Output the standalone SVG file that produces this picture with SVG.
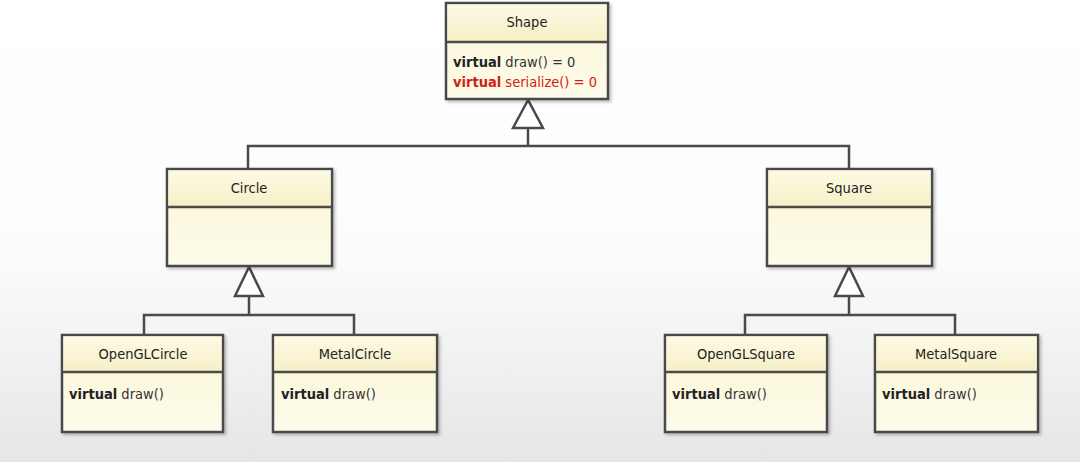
<svg xmlns="http://www.w3.org/2000/svg" width="1080" height="462" viewBox="0 0 1080 462">
<defs>
<linearGradient id="bg" x1="0" y1="0" x2="0" y2="1">
<stop offset="0" stop-color="#ffffff"/>
<stop offset="0.55" stop-color="#fcfcfc"/>
<stop offset="1" stop-color="#e6e6e6"/>
</linearGradient>
<linearGradient id="body" x1="0" y1="0" x2="0" y2="1">
<stop offset="0" stop-color="#fbf6d6"/>
<stop offset="1" stop-color="#fdfbea"/>
</linearGradient>
<linearGradient id="head" x1="0" y1="0" x2="0" y2="1">
<stop offset="0" stop-color="#fdfae4"/>
<stop offset="1" stop-color="#f6efc6"/>
</linearGradient>
<filter id="sh" x="-5%" y="-5%" width="115%" height="115%">
<feDropShadow dx="2" dy="2" stdDeviation="1.5" flood-color="#000" flood-opacity="0.25"/>
</filter>
</defs>
<style>
.box{fill:url(#body);stroke:#4a4a4a;stroke-width:2.5;filter:url(#sh)}
.hd{fill:url(#head);stroke:none}
.div{stroke:#4a4a4a;stroke-width:2.5}
.t{font-family:"DejaVu Sans Condensed","DejaVu Sans",sans-serif;font-size:14.5px;fill:#222;text-anchor:middle}
.m{font-family:"DejaVu Sans Condensed","DejaVu Sans",sans-serif;font-size:14.5px;fill:#333}
.k{font-weight:bold;fill:#222}
.r{fill:#d0230f}
.c{fill:none;stroke:#4a4a4a;stroke-width:2.5}
.tri{fill:#ffffff;stroke:#4a4a4a;stroke-width:2.5;stroke-linejoin:miter}
</style>
<rect x="0" y="0" width="1080" height="462" fill="url(#bg)"/>

<g id="connectors">
<polyline class="c" points="248,169 248,146 849,146 849,169"/>
<line class="c" x1="528" y1="128" x2="528" y2="146"/>
<polygon class="tri" points="528,100 513,128 543,128"/>
<polyline class="c" points="144,335 144,315 354,315 354,335"/>
<line class="c" x1="249" y1="296" x2="249" y2="315"/>
<polygon class="tri" points="249,267 235,296 263,296"/>
<polyline class="c" points="745,335 745,315 955,315 955,335"/>
<line class="c" x1="849" y1="296" x2="849" y2="315"/>
<polygon class="tri" points="849,267 835,296 863,296"/>
</g>

<g id="Shape">
<rect class="box" x="446" y="3" width="162" height="96"/>
<rect class="hd" x="447.5" y="4.5" width="159" height="37"/>
<line class="div" x1="446" y1="42" x2="608" y2="42"/>
<text class="t" x="527" y="27">Shape</text>
<text class="m" x="453" y="67"><tspan class="k">virtual</tspan> draw() = 0</text>
<text class="m r" x="453" y="87"><tspan class="k r">virtual</tspan> serialize() = 0</text>
</g>

<g id="Circle">
<rect class="box" x="167" y="169" width="165" height="97"/>
<rect class="hd" x="168.5" y="170.5" width="162" height="36"/>
<line class="div" x1="167" y1="207" x2="332" y2="207"/>
<text class="t" x="249" y="193">Circle</text>
</g>

<g id="Square">
<rect class="box" x="767" y="169" width="165" height="97"/>
<rect class="hd" x="768.5" y="170.5" width="162" height="36"/>
<line class="div" x1="767" y1="207" x2="932" y2="207"/>
<text class="t" x="849" y="193">Square</text>
</g>

<g id="OpenGLCircle">
<rect class="box" x="62" y="335" width="161" height="97"/>
<rect class="hd" x="63.5" y="336.5" width="158" height="35"/>
<line class="div" x1="62" y1="372" x2="223" y2="372"/>
<text class="t" x="143" y="359">OpenGLCircle</text>
<text class="m" x="69" y="399"><tspan class="k">virtual</tspan> draw()</text>
</g>

<g id="MetalCircle">
<rect class="box" x="273" y="335" width="164" height="97"/>
<rect class="hd" x="274.5" y="336.5" width="161" height="35"/>
<line class="div" x1="273" y1="372" x2="437" y2="372"/>
<text class="t" x="355" y="359">MetalCircle</text>
<text class="m" x="281" y="399"><tspan class="k">virtual</tspan> draw()</text>
</g>

<g id="OpenGLSquare">
<rect class="box" x="665" y="335" width="162" height="97"/>
<rect class="hd" x="666.5" y="336.5" width="159" height="35"/>
<line class="div" x1="665" y1="372" x2="827" y2="372"/>
<text class="t" x="746" y="359">OpenGLSquare</text>
<text class="m" x="672" y="399"><tspan class="k">virtual</tspan> draw()</text>
</g>

<g id="MetalSquare">
<rect class="box" x="875" y="335" width="163" height="97"/>
<rect class="hd" x="876.5" y="336.5" width="160" height="35"/>
<line class="div" x1="875" y1="372" x2="1038" y2="372"/>
<text class="t" x="956" y="359">MetalSquare</text>
<text class="m" x="882" y="399"><tspan class="k">virtual</tspan> draw()</text>
</g>
</svg>
